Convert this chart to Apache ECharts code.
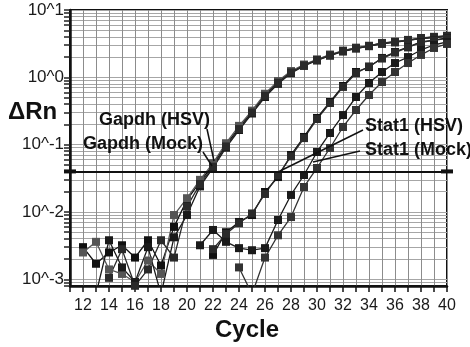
<!DOCTYPE html>
<html>
<head>
<meta charset="utf-8">
<script src="https://cdn.jsdelivr.net/npm/echarts@6/dist/echarts.min.js"></script>
<style>
  html, body { margin:0; padding:0; background:#fff; }
  #chart { width:470px; height:347px; }
</style>
</head>
<body>
<div id="chart"></div>
<script>
// cycles 12..40
var cycles = [12,13,14,15,16,17,18,19,20,21,22,23,24,25,26,27,28,29,30,31,32,33,34,35,36,37,38,39,40];

// delta Rn per cycle, null = no point
var gapdhHsv1 = [0.0030,0.0017,0.0025,0.0032,0.0021,0.0038,0.0016,0.0060,0.0151,0.0279,0.0499,0.0989,0.177,0.305,0.546,0.851,1.20,1.52,1.81,2.15,2.46,2.73,2.92,3.24,3.35,3.58,3.84,3.97,4.11];
var gapdhHsv2 = [0.0025,0.0036,0.0014,0.0012,0.00091,0.0019,0.0012,0.0090,0.0160,0.0300,0.0530,0.105,0.190,0.320,0.570,0.880,1.24,1.55,1.85,2.18,2.50,2.76,2.95,3.20,3.40,3.60,3.80,4.00,4.15];
var gapdhMock1 = [null,0.0006,0.0038,0.0015,0.00091,0.0030,0.0006,0.0042,0.0090,0.0240,0.0450,0.0900,0.165,0.290,0.510,0.800,1.15,1.48,1.78,2.10,2.42,2.68,2.90,3.15,3.30,3.55,3.75,3.90,4.05];
var gapdhMock2 = [null,null,0.00105,0.0028,0.0008,0.0014,0.0038,0.0021,0.0120,0.0260,0.0470,0.0940,0.170,0.300,0.530,0.830,1.18,1.50,1.80,2.12,2.45,2.70,2.92,3.18,3.35,3.55,3.80,3.95,4.10];
var stat1Hsv1 = [null,null,null,null,null,null,null,null,null,null,0.0023,0.0050,0.0071,0.0090,0.0198,0.033,0.0702,0.130,0.249,0.430,0.743,1.20,1.42,1.94,2.38,2.82,3.35,3.58,3.84];
var stat1Hsv2 = [null,null,null,null,null,null,null,null,null,null,0.0028,0.0047,0.0068,0.0095,0.0185,0.035,0.067,0.125,0.240,0.415,0.72,1.15,1.45,1.90,2.33,2.78,3.30,3.55,3.80];
var stat1Mock1 = [null,null,null,null,null,null,null,null,null,0.0032,0.0054,0.0036,0.0029,0.0027,0.0029,0.0076,0.0179,0.0354,0.0778,0.149,0.275,0.510,0.824,1.20,1.63,2.00,2.55,3.02,3.35];
var stat1Mock2 = [null,null,null,null,null,null,null,null,null,null,null,null,0.0015,0.0006,0.0021,0.0045,0.0084,0.0235,0.045,0.0891,0.183,0.327,0.546,0.851,1.20,1.63,2.15,2.73,3.13];

var threshold = 0.04;
var yMin = Math.pow(10, -3.1), yMax = 10;

// horizontal grid: 1..9 in every decade (in log10 units)
var gridExp = [];
for (var k = -4; k <= 0; k++) {
  for (var m = 1; m <= 9; m++) {
    var e = k + Math.log10(m);
    if (e >= -3.1) gridExp.push(e);
  }
}
gridExp.push(1);

var FONT = '"Liberation Sans", Arial, sans-serif';

function makeSeries(name, arr, color) {
  return {
    name: name,
    type: 'line',
    yAxisIndex: 0,
    data: cycles.map(function (c, i) { return arr[i] == null ? [c, '-'] : [c, arr[i]]; }),
    symbol: 'rect',
    symbolSize: 8,
    lineStyle: { color: color, width: 1.3 },
    itemStyle: { color: color },
    clip: true
  };
}

var series = [
  makeSeries('Gapdh (HSV) 1', gapdhHsv1, '#111'),
  makeSeries('Gapdh (HSV) 2', gapdhHsv2, '#555'),
  makeSeries('Gapdh (Mock) 1', gapdhMock1, '#1a1a1a'),
  makeSeries('Gapdh (Mock) 2', gapdhMock2, '#2a2a2a'),
  makeSeries('Stat1 (HSV) 1', stat1Hsv1, '#111'),
  makeSeries('Stat1 (HSV) 2', stat1Hsv2, '#2a2a2a'),
  makeSeries('Stat1 (Mock) 1', stat1Mock1, '#1a1a1a'),
  makeSeries('Stat1 (Mock) 2', stat1Mock2, '#333')
];

// threshold line
series[0].markLine = {
  silent: true,
  symbol: ['rect', 'rect'],
  symbolSize: [4, 12],
  label: { show: false },
  lineStyle: { color: '#111', width: 2, type: 'solid' },
  data: [{ yAxis: threshold }]
};

var chart = echarts.init(document.getElementById('chart'));
chart.setOption({
  animation: false,
  backgroundColor: '#fff',
  grid: {
    left: 70, top: 10, width: 377, height: 276,
    show: true, borderColor: '#111', borderWidth: 2
  },
  xAxis: {
    type: 'value',
    min: 11, max: 40, interval: 1,
    axisLine: { onZero: false, lineStyle: { color: '#111', width: 2.5 } },
    axisTick: { length: 6, lineStyle: { color: '#111', width: 1.5 } },
    axisLabel: {
      margin: 12, fontSize: 16, color: '#1a1a1a', fontFamily: FONT,
      formatter: function (v) { return (v % 2 === 0) ? String(v) : ''; }
    },
    splitLine: { show: true, lineStyle: { color: '#8c8c8c', width: 1 } }
  },
  yAxis: [
    {
      type: 'log', logBase: 10,
      min: yMin, max: yMax,
      position: 'left',
      axisLine: { show: true, lineStyle: { color: '#111', width: 2.5 } },
      axisTick: { show: false },
      splitLine: { show: false },
      axisLabel: {
        margin: 6, fontSize: 17, color: '#1a1a1a', fontFamily: FONT,
        showMinLabel: false,
        formatter: function (v) { return '10^' + Math.round(Math.log10(v)); }
      }
    },
    {
      // only for the grid lines and the tick comb
      type: 'value',
      min: -3.1, max: 1,
      position: 'left',
      axisLine: { show: false },
      axisLabel: { show: false },
      axisTick: { show: true, length: 6, customValues: gridExp, lineStyle: { color: '#222', width: 1.5 } },
      splitLine: { show: true, lineStyle: { color: '#a6a6a6', width: 1 } }
    }
  ],
  series: series,
  graphic: [
    { type: 'text', z: 100, left: 8, top: 100, style: { text: '\u0394Rn', font: 'bold 24px ' + FONT, fill: '#111' } },
    { type: 'text', z: 100, left: 215, top: 318, style: { text: 'Cycle', font: 'bold 24px ' + FONT, fill: '#111' } },
    { type: 'text', z: 100, x: 99, y: 120, style: { text: 'Gapdh (HSV)', font: 'bold 18px ' + FONT, fill: '#111', verticalAlign: 'middle' } },
    { type: 'text', z: 100, x: 83, y: 144, style: { text: 'Gapdh (Mock)', font: 'bold 18px ' + FONT, fill: '#111', verticalAlign: 'middle' } },
    { type: 'text', z: 100, x: 365, y: 126, style: { text: 'Stat1 (HSV)', font: 'bold 18px ' + FONT, fill: '#111', verticalAlign: 'middle' } },
    { type: 'text', z: 100, x: 365, y: 150, style: { text: 'Stat1 (Mock)', font: 'bold 18px ' + FONT, fill: '#111', verticalAlign: 'middle' } },
    // leader lines
    { type: 'line', z: 100, shape: { x1: 207, y1: 129, x2: 214, y2: 161 }, style: { stroke: '#111', lineWidth: 1.5 } },
    { type: 'line', z: 100, shape: { x1: 203, y1: 152, x2: 212, y2: 166 }, style: { stroke: '#111', lineWidth: 1.5 } },
    { type: 'line', z: 100, shape: { x1: 363, y1: 130, x2: 278, y2: 172 }, style: { stroke: '#111', lineWidth: 1.5 } },
    { type: 'line', z: 100, shape: { x1: 360, y1: 151, x2: 313, y2: 162 }, style: { stroke: '#111', lineWidth: 1.5 } }
  ]
});
</script>
</body>
</html>
